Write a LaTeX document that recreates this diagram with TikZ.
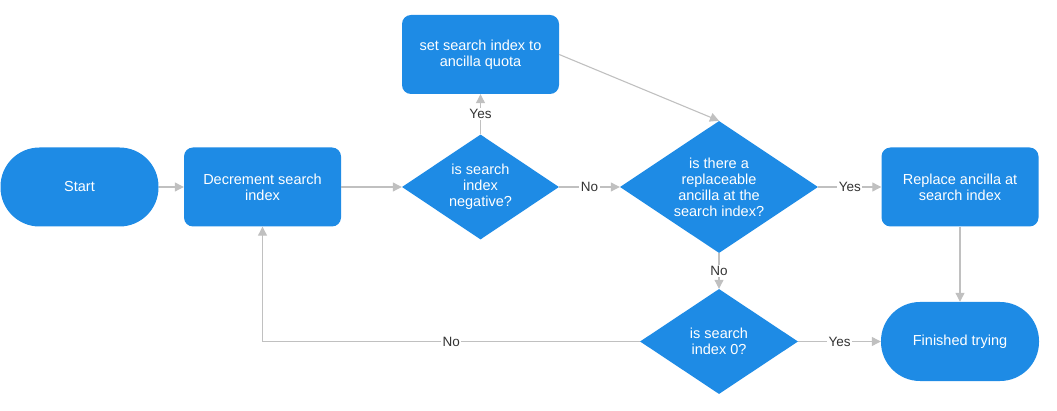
\documentclass[tikz,border=0pt]{standalone}
\usepackage{fontspec}
\setmainfont{Liberation Sans}
\usetikzlibrary{shapes.geometric,arrows.meta}
\definecolor{flowblue}{RGB}{30,139,229}
\definecolor{linegrey}{RGB}{192,192,192}
\definecolor{labelgrey}{RGB}{51,51,51}
\tikzset{
  base/.style={fill=flowblue, draw=none, text=white, align=center, inner sep=0pt,
    font=\fontsize{14.5}{16}\selectfont},
  terminal/.style={base, rectangle, rounded corners=39pt, minimum width=158pt, minimum height=79pt},
  process/.style={base, rectangle, rounded corners=9pt, minimum width=157pt, minimum height=79pt},
  decision/.style={base, diamond, aspect=1.5},
  conn/.style={draw=linegrey, line width=1.1pt, -{Triangle[length=9pt,width=9pt,fill=linegrey]}},
  lbl/.style={fill=white, text=labelgrey, inner sep=1.5pt, font=\fontsize{13.5}{15}\selectfont}
}
\begin{document}
\begin{tikzpicture}[x=1pt,y=-1pt]
\useasboundingbox (0,0) rectangle (1057,411);
\node[terminal] (start) at (79.5,187) {Start};
\node[process] (dec) at (262.5,187) {Decrement search\\index};
\node[decision, minimum width=157pt, minimum height=105pt] (neg) at (480.5,187) {is search\\index\\negative?};
\node[process] (set) at (480.5,54.5) {set search index to\\ancilla quota};
\node[decision, minimum width=198pt, minimum height=132pt] (repl) at (719,187) {is there a\\replaceable\\ancilla at the\\search index?};
\node[process] (rep) at (960,187) {Replace ancilla at\\search index};
\node[decision, minimum width=158pt, minimum height=105pt] (zero) at (719,341.5) {is search\\index 0?};
\node[terminal] (fin) at (960,341.5) {Finished trying};

\draw[conn] (start) -- (dec);
\draw[conn] (dec) -- (neg);
\draw[conn] (neg) -- node[lbl] (lyes1) {Yes} (set);
\draw[conn] (neg) -- node[lbl] (lno1) {No} (repl);
\draw[conn] (set.east) -- (repl.north);
\draw[conn] (repl) -- node[lbl] (lyes2) {Yes} (rep);
\draw[conn] (repl) -- node[lbl] (lno2) {No} (zero);
\draw[conn] (rep) -- (fin);
\draw[conn] (zero) -- node[lbl] (lyes3) {Yes} (fin);
\draw[conn] (zero.west) -| node[lbl, pos=0.25] (lno3) {No} (dec.south);
\end{tikzpicture}
\end{document}
